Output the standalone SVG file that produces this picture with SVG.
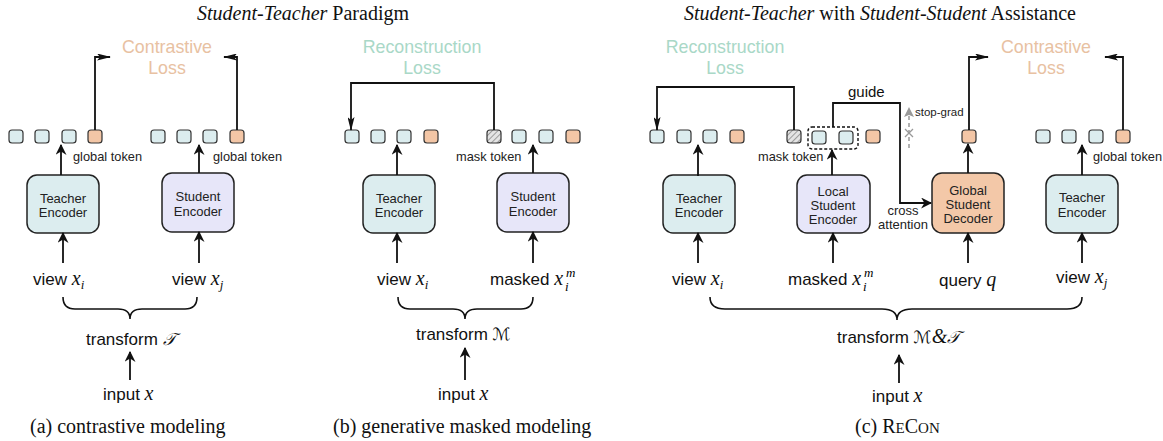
<svg xmlns="http://www.w3.org/2000/svg" width="1163" height="441" viewBox="0 0 1163 441">
<style>
.bg{fill:#ffffff}
.tk{stroke:#333;stroke-width:1.2}
.tc{fill:#dcedef}
.to{fill:#f3c6a6}
.th{fill:url(#hatch)}
.box{stroke:#222;stroke-width:1.5}
.teach{fill:#dcedef}
.stud{fill:#e7e6f9}
.dec{fill:#f3c8a8}
.bt{font-family:"Liberation Sans",Arial,sans-serif;font-size:13px;fill:#222;text-anchor:middle}
.sm{font-family:"Liberation Sans",Arial,sans-serif;font-size:12.8px;fill:#222}
.lbl{font-family:"Liberation Sans",Arial,sans-serif;font-size:17px;fill:#111}
.m{font-family:"Liberation Serif","Times New Roman",serif;font-style:italic;font-size:20px}
.sub{font-family:"Liberation Serif","Times New Roman",serif;font-style:italic;font-size:13px}
.scr{font-family:"DejaVu Sans","Noto Sans",serif;font-style:italic;font-size:17px}
.ser{font-family:"Liberation Serif","Times New Roman",serif;font-size:20px;fill:#111}
.it{font-style:italic}
.closs{font-family:"Liberation Sans",Arial,sans-serif;font-size:17.8px;fill:#e8c1a2;text-anchor:middle}
.rloss{font-family:"Liberation Sans",Arial,sans-serif;font-size:17.8px;fill:#a9d8c7;text-anchor:middle}
.ln{fill:none;stroke:#111;stroke-width:1.8}
.ar{marker-end:url(#arr)}
.la{marker-end:url(#thin)}
.brace{fill:none;stroke:#111;stroke-width:1.6}
</style>
<defs>
<marker id="arr" viewBox="0 0 10 10" refX="9" refY="5" markerWidth="11" markerHeight="11" markerUnits="userSpaceOnUse" orient="auto">
<path d="M0,0 L10,5 L0,10 L3,5 z" fill="#111"/>
</marker>
<marker id="thin" viewBox="0 0 14 7" refX="13" refY="3.5" markerWidth="14" markerHeight="7" markerUnits="userSpaceOnUse" orient="auto">
<path d="M0,0 L14,3.5 L0,7 L3,3.5 z" fill="#111"/>
</marker>
<marker id="garr" viewBox="0 0 10 10" refX="9" refY="5" markerWidth="10" markerHeight="10" markerUnits="userSpaceOnUse" orient="auto">
<path d="M0,0 L10,5 L0,10 L2,5 z" fill="#999"/>
</marker>
<pattern id="hatch" patternUnits="userSpaceOnUse" width="4" height="4" patternTransform="rotate(45)">
<rect width="4" height="4" fill="#e4e4e4"/>
<line x1="0" y1="0" x2="0" y2="4" stroke="#8a8a8a" stroke-width="1.6"/>
</pattern>
</defs>
<rect class="bg" width="1163" height="441"/>

<!-- titles -->
<g id="titles">
<text class="ser" x="303" y="20" text-anchor="middle"><tspan class="it">Student-Teacher</tspan> Paradigm</text>
<text class="ser" x="880" y="20" text-anchor="middle"><tspan class="it">Student-Teacher</tspan> with <tspan class="it">Student-Student</tspan> Assistance</text>
</g>

<!-- loss labels -->
<g id="losses">
<text class="closs" x="167" y="53">Contrastive</text><text class="closs" x="167" y="74">Loss</text>
<text class="rloss" x="422" y="53">Reconstruction</text><text class="rloss" x="422" y="74">Loss</text>
<text class="rloss" x="725" y="53">Reconstruction</text><text class="rloss" x="725" y="74">Loss</text>
<text class="closs" x="1046" y="53">Contrastive</text><text class="closs" x="1046" y="74">Loss</text>
</g>

<!-- tokens -->
<g id="tokens-a">
<rect class="tk tc" x="9" y="130" width="14" height="13" rx="3"/>
<rect class="tk tc" x="35" y="130" width="14" height="13" rx="3"/>
<rect class="tk tc" x="62" y="130" width="14" height="13" rx="3"/>
<rect class="tk to" x="88" y="130" width="14" height="13" rx="3"/>
<rect class="tk tc" x="151" y="130" width="14" height="13" rx="3"/>
<rect class="tk tc" x="177" y="130" width="14" height="13" rx="3"/>
<rect class="tk tc" x="203" y="130" width="14" height="13" rx="3"/>
<rect class="tk to" x="230" y="130" width="14" height="13" rx="3"/>
<text class="sm" x="73" y="161">global token</text>
<text class="sm" x="213" y="161">global token</text>
</g>
<g id="tokens-b">
<rect class="tk tc" x="345" y="130" width="14" height="13" rx="3"/>
<rect class="tk tc" x="371" y="130" width="14" height="13" rx="3"/>
<rect class="tk tc" x="397" y="130" width="14" height="13" rx="3"/>
<rect class="tk to" x="424" y="130" width="14" height="13" rx="3"/>
<rect class="tk th" x="487" y="130" width="14" height="13" rx="3"/>
<rect class="tk tc" x="512" y="130" width="14" height="13" rx="3"/>
<rect class="tk tc" x="539" y="130" width="14" height="13" rx="3"/>
<rect class="tk to" x="566" y="130" width="14" height="13" rx="3"/>
<text class="sm" x="456" y="161">mask token</text>
</g>
<g id="tokens-c">
<rect class="tk tc" x="650" y="130" width="14" height="13" rx="3"/>
<rect class="tk tc" x="677" y="130" width="14" height="13" rx="3"/>
<rect class="tk tc" x="703" y="130" width="14" height="13" rx="3"/>
<rect class="tk to" x="730" y="130" width="14" height="13" rx="3"/>
<rect class="tk th" x="787" y="130" width="14" height="13" rx="3"/>
<rect x="808" y="127" width="50" height="22" rx="4" fill="none" stroke="#111" stroke-width="1.4" stroke-dasharray="3,2"/>
<rect class="tk tc" x="812" y="131" width="14" height="13" rx="3"/>
<rect class="tk tc" x="839" y="131" width="14" height="13" rx="3"/>
<rect class="tk to" x="866" y="130" width="14" height="13" rx="3"/>
<rect class="tk to" x="962" y="130" width="14" height="13" rx="3"/>
<rect class="tk tc" x="1036" y="130" width="14" height="13" rx="3"/>
<rect class="tk tc" x="1062" y="130" width="14" height="13" rx="3"/>
<rect class="tk tc" x="1089" y="130" width="14" height="13" rx="3"/>
<rect class="tk to" x="1116" y="130" width="14" height="13" rx="3"/>
<text class="sm" x="758" y="161">mask token</text>
<text class="sm" x="1093" y="161">global token</text>
</g>

<!-- encoder nodes -->
<g id="a-teacher"><rect class="box teach" x="27" y="175" width="72" height="58" rx="10"/><text class="bt" x="63" y="203">Teacher</text><text class="bt" x="63" y="217">Encoder</text></g>
<g id="a-student"><rect class="box stud" x="162" y="173" width="72" height="59" rx="10"/><text class="bt" x="198" y="201">Student</text><text class="bt" x="198" y="216">Encoder</text></g>
<g id="b-teacher"><rect class="box teach" x="363" y="175" width="72" height="58" rx="10"/><text class="bt" x="399" y="203">Teacher</text><text class="bt" x="399" y="217">Encoder</text></g>
<g id="b-student"><rect class="box stud" x="497" y="173" width="72" height="59" rx="10"/><text class="bt" x="533" y="201">Student</text><text class="bt" x="533" y="216">Encoder</text></g>
<g id="c-teacher1"><rect class="box teach" x="663" y="175" width="72" height="58" rx="10"/><text class="bt" x="699" y="203">Teacher</text><text class="bt" x="699" y="217">Encoder</text></g>
<g id="c-local"><rect class="box stud" x="797" y="175" width="73" height="58" rx="10"/><text class="bt" x="833" y="196">Local</text><text class="bt" x="833" y="210">Student</text><text class="bt" x="833" y="224">Encoder</text></g>
<g id="c-global"><rect class="box dec" x="932" y="173" width="72" height="60" rx="10"/><text class="bt" x="968" y="195">Global</text><text class="bt" x="968" y="209">Student</text><text class="bt" x="968" y="223">Decoder</text></g>
<g id="c-teacher2"><rect class="box teach" x="1046" y="175" width="72" height="58" rx="10"/><text class="bt" x="1082" y="202">Teacher</text><text class="bt" x="1082" y="217">Encoder</text></g>

<!-- inputs -->
<g id="inputs">
<text class="lbl" x="33" y="285">view <tspan class="m">x</tspan><tspan class="sub" dy="4">i</tspan></text>
<text class="lbl" x="172" y="285">view <tspan class="m">x</tspan><tspan class="sub" dy="4">j</tspan></text>
<text class="lbl" x="86" y="345">transform <tspan class="scr">𝒯</tspan></text>
<text class="lbl" x="103" y="400">input <tspan class="m">x</tspan></text>

<text class="lbl" x="377" y="285">view <tspan class="m">x</tspan><tspan class="sub" dy="4">i</tspan></text>
<text class="lbl" x="490" y="285">masked <tspan class="m">x</tspan></text>
<text class="sub" x="566" y="277">m</text><text class="sub" x="565" y="291">i</text>
<text class="lbl" x="416" y="340">transform <tspan class="scr">ℳ</tspan></text>
<text class="lbl" x="438" y="400">input <tspan class="m">x</tspan></text>

<text class="lbl" x="672" y="285">view <tspan class="m">x</tspan><tspan class="sub" dy="4">i</tspan></text>
<text class="lbl" x="788" y="285">masked <tspan class="m">x</tspan></text>
<text class="sub" x="864" y="277">m</text><text class="sub" x="863" y="291">i</text>
<text class="lbl" x="939" y="286">query <tspan class="m">q</tspan></text>
<text class="lbl" x="1056" y="283">view <tspan class="m">x</tspan><tspan class="sub" dy="4">j</tspan></text>
<text class="lbl" x="837" y="343">transform <tspan class="scr">ℳ</tspan><tspan class="m">&amp;</tspan><tspan class="scr">𝒯</tspan></text>
<text class="lbl" x="872" y="402">input <tspan class="m">x</tspan></text>
</g>

<!-- misc labels -->
<g id="labels">
<text class="lbl" x="848" y="97" style="font-size:15px">guide</text>
<text class="bt" x="903" y="215">cross</text>
<text class="bt" x="903" y="229">attention</text>
<text class="sm" x="915" y="116" style="font-size:11.5px">stop-grad</text>
</g>

<!-- connectors -->
<g id="connectors">
<path class="ln la" d="M95,130 V57 H110"/>
<path class="ln la" d="M237,130 V57 H224"/>
<path class="ln la" d="M494,130 V83 H351 V130"/>
<path class="ln la" d="M794,130 V87 H657 V130"/>
<path class="ln ar" d="M833,127 V103 H900 V203 H931"/>
<path class="ln la" d="M969,130 V57 H988"/>
<path class="ln la" d="M1123,130 V57 H1105"/>

<path class="ln ar" d="M61,175 V145"/>
<path class="ln ar" d="M199,173 V145"/>
<path class="ln ar" d="M397,175 V145"/>
<path class="ln ar" d="M533,173 V145"/>
<path class="ln ar" d="M698,176 V145"/>
<path class="ln ar" d="M832,175 V150"/>
<path class="ln ar" d="M968,173 V144"/>
<path class="ln ar" d="M1082,175 V145"/>

<path class="ln ar" d="M63,263 V233"/>
<path class="ln ar" d="M199,263 V232"/>
<path class="ln ar" d="M397,263 V233"/>
<path class="ln ar" d="M533,263 V232"/>
<path class="ln ar" d="M698,263 V233"/>
<path class="ln ar" d="M833,263 V233"/>
<path class="ln ar" d="M968,263 V233"/>
<path class="ln ar" d="M1082,263 V233"/>

<path class="ln ar" d="M130,380 V352"/>
<path class="ln ar" d="M465,380 V348"/>
<path class="ln ar" d="M899,383 V355"/>

<path class="brace" d="M63,297 Q63,309 75,309 L118,309 Q130,309 130,319 Q130,309 142,309 L185,309 Q197,309 197,297"/>
<path class="brace" d="M398,297 Q398,309 410,309 L453,309 Q465,309 465,319 Q465,309 477,309 L521,309 Q533,309 533,297"/>
<path class="brace" d="M710,297 Q710,309 725,309 L882,309 Q897,309 897,320 Q897,309 912,309 L1067,309 Q1082,309 1082,297"/>

<path d="M909,148 V108" fill="none" stroke="#999" stroke-width="1.5" stroke-dasharray="4,3" marker-end="url(#garr)"/>
<path d="M905,129 L913,137 M913,129 L905,137" stroke="#999" stroke-width="1.3"/>
</g>

<!-- captions -->
<g id="captions">
<text class="ser" x="30" y="433">(a) contrastive modeling</text>
<text class="ser" x="333" y="433">(b) generative masked modeling</text>
<text class="ser" x="855" y="433">(c) R<tspan style="font-size:15px">E</tspan>C<tspan style="font-size:15px">ON</tspan></text>
</g>
</svg>
